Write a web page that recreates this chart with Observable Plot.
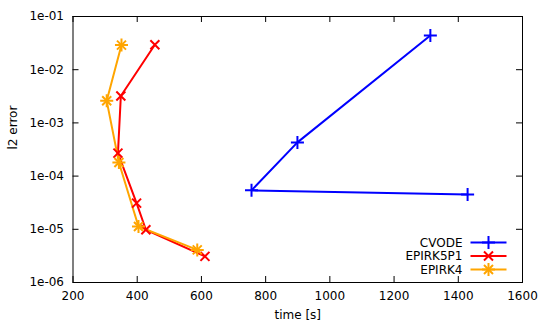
<!DOCTYPE html>
<html>
<head>
<meta charset="utf-8">
<script src="https://cdn.jsdelivr.net/npm/d3@7"></script>
<script src="https://cdn.jsdelivr.net/npm/@observablehq/plot@0.6"></script>
<style>
  html, body { margin: 0; padding: 0; background: #fff; }
  #chart { position: relative; width: 545px; height: 327px; }
</style>
</head>
<body>
<div id="chart"></div>
<script>
// ---- data ----
const seriesNames = ["CVODE", "EPIRK5P1", "EPIRK4"];
const seriesColors = ["#0000ff", "#ff0000", "#ffa500"];

const cvodeTime = [1313, 899, 756, 1429];
const cvodeErr  = [4.4e-2, 4.3e-4, 5.4e-5, 4.5e-5];

const epirk5p1Time = [455, 349, 340, 398, 427, 611];
const epirk5p1Err  = [2.94e-2, 3.2e-3, 2.7e-4, 3.1e-5, 9.8e-6, 3.1e-6];

const epirk4Time = [351, 305, 343, 404, 587];
const epirk4Err  = [2.9e-2, 2.6e-3, 1.8e-4, 1.13e-5, 4.1e-6];

const xTicks = [200, 400, 600, 800, 1000, 1200, 1400, 1600];
const yTicks = [1e-6, 1e-5, 1e-4, 1e-3, 1e-2, 1e-1];
const yTickLabels = ["1e-06", "1e-05", "1e-04", "1e-03", "1e-02", "1e-01"];

const xLabel = "time [s]";
const yLabel = "l2 error";

// ---- build table ----
const rows = [];
[[cvodeTime, cvodeErr], [epirk5p1Time, epirk5p1Err], [epirk4Time, epirk4Err]].forEach(([t, e], i) => {
  t.forEach((v, j) => rows.push({series: seriesNames[i], time: v, err: e[j]}));
});
const bySeries = name => rows.filter(r => r.series === name);

// ---- layout ----
const W = 545, H = 327;
const mL = 72.5, mR = 23, mT = 16, mB = 45;
const plotW = W - mL - mR, plotH = H - mT - mB;
const tickLen = 6;
const FONT = "DejaVu Sans";
const FS = 12;
const rPlus = 4.27, rTimes = 4.17;

const colorOf = Object.fromEntries(seriesNames.map((n, i) => [n, seriesColors[i]]));

const chart = Plot.plot({
  width: W,
  height: H,
  marginLeft: mL,
  marginRight: mR,
  marginTop: mT,
  marginBottom: mB,
  style: {fontFamily: FONT, fontSize: FS + "px", background: "#fff", color: "#000"},
  x: {domain: [200, 1600]},
  y: {type: "log", domain: [1e-6, 1e-1]},
  marks: [
    // inward ticks, mirrored on all four sides
    Plot.tickX(xTicks, {x: d => d, stroke: "#000", insetTop: plotH - tickLen}),
    Plot.tickX(xTicks, {x: d => d, stroke: "#000", insetBottom: plotH - tickLen}),
    Plot.tickY(yTicks, {y: d => d, stroke: "#000", insetRight: plotW - tickLen}),
    Plot.tickY(yTicks, {y: d => d, stroke: "#000", insetLeft: plotW - tickLen}),
    Plot.axisX({ticks: xTicks, tickSize: 0, tickPadding: 9, label: null, tickFormat: d => String(d), fontSize: FS}),
    Plot.axisY({ticks: yTicks, tickSize: 0, tickPadding: 9, label: null,
      tickFormat: d => yTickLabels[yTicks.findIndex(t => Math.abs(Math.log10(t) - Math.log10(d)) < 1e-9)], fontSize: FS}),
    Plot.frame({stroke: "#000", strokeWidth: 1}),
    Plot.text([xLabel], {text: d => d, frameAnchor: "bottom", dy: 36, fontSize: FS}),
    Plot.text([yLabel], {text: d => d, frameAnchor: "left", dx: -60, rotate: -90, fontSize: FS}),
    // series lines
    ...seriesNames.map(n => Plot.line(bySeries(n), {x: "time", y: "err", stroke: colorOf[n], strokeWidth: 2})),
    // markers
    Plot.dot(bySeries("CVODE"), {x: "time", y: "err", symbol: "plus", r: rPlus, stroke: colorOf["CVODE"], strokeWidth: 2}),
    Plot.dot(bySeries("EPIRK5P1"), {x: "time", y: "err", symbol: "times", r: rTimes, stroke: colorOf["EPIRK5P1"], strokeWidth: 2}),
    Plot.dot(bySeries("EPIRK4"), {x: "time", y: "err", symbol: "plus", r: rPlus, stroke: colorOf["EPIRK4"], strokeWidth: 2}),
    Plot.dot(bySeries("EPIRK4"), {x: "time", y: "err", symbol: "times", r: rTimes, stroke: colorOf["EPIRK4"], strokeWidth: 2})
  ]
});

document.getElementById("chart").appendChild(chart);

// ---- legend (inside plot, bottom right) ----
const svg = d3.select(chart);
const legendRows = [242.5, 256, 269.5];
const lineX1 = 470.5, lineX2 = 506.5, textX = 462.5;
const g = svg.append("g").attr("font-family", FONT).attr("font-size", FS + "px");
seriesNames.forEach((n, i) => {
  const y = legendRows[i];
  g.append("text").attr("x", textX).attr("y", y).attr("dy", "0.35em")
    .attr("text-anchor", "end").attr("fill", "#000").text(n);
  g.append("line").attr("x1", lineX1).attr("x2", lineX2).attr("y1", y).attr("y2", y)
    .attr("stroke", seriesColors[i]).attr("stroke-width", 2);
  const cx = (lineX1 + lineX2) / 2;
  const syms = i === 0 ? [[d3.symbolPlus, rPlus]] : i === 1 ? [[d3.symbolTimes, rTimes]] : [[d3.symbolPlus, rPlus], [d3.symbolTimes, rTimes]];
  syms.forEach(([s, r]) => {
    g.append("path").attr("d", d3.symbol(s, r * r * Math.PI)())
      .attr("transform", `translate(${cx},${y})`)
      .attr("fill", "none").attr("stroke", seriesColors[i]).attr("stroke-width", 2);
  });
});
</script>
</body>
</html>
